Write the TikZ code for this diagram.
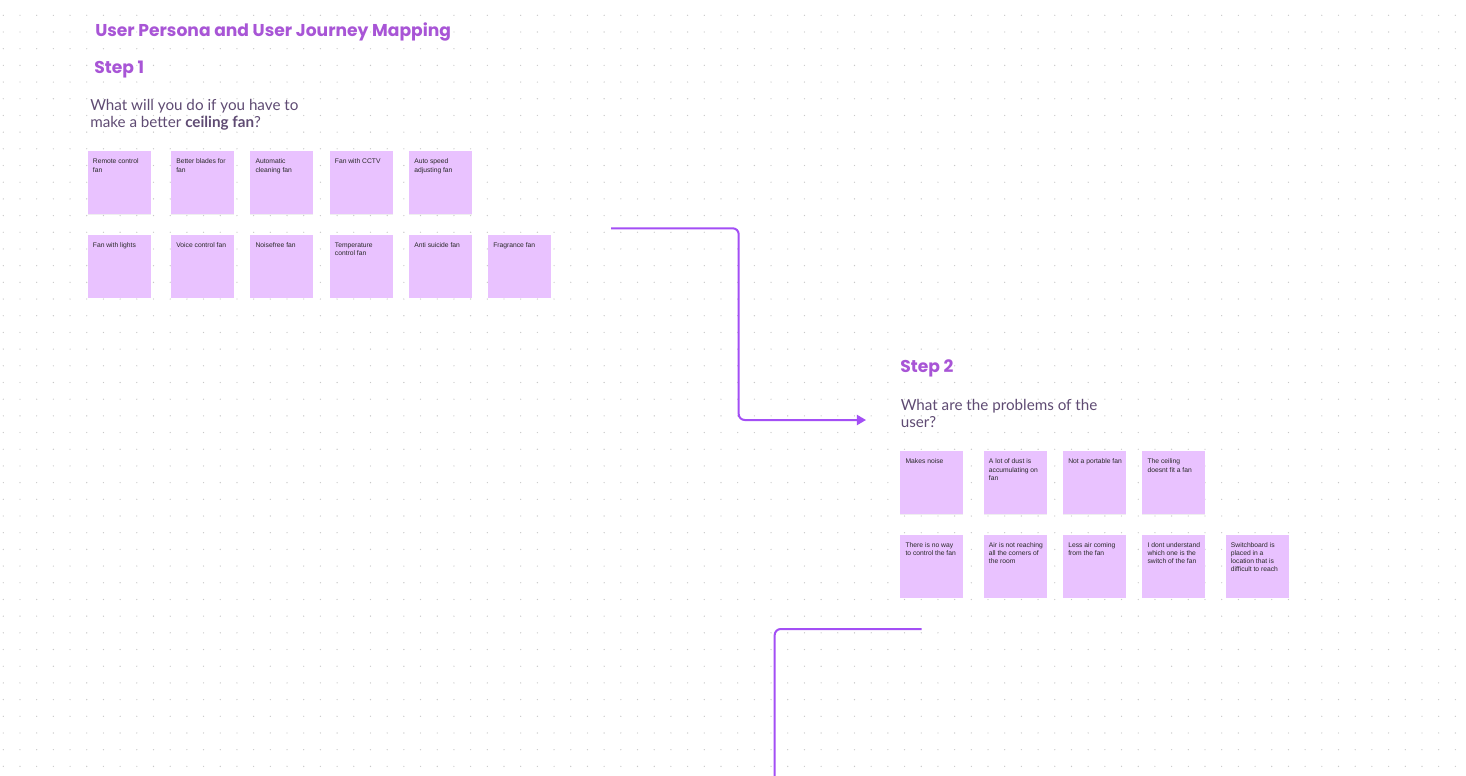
\documentclass[tikz,border=0pt]{standalone}
\usepackage{fontspec}
\usetikzlibrary{arrows.meta,shadows}
\newfontfamily\headfamily{Poppins}
\newfontfamily\askfamily{Lato}
\newfontfamily\notefamily{Liberation Sans}
\definecolor{headpurple}{RGB}{168,85,214}
\definecolor{askgrey}{RGB}{95,75,115}
\definecolor{notefill}{RGB}{233,194,255}
\definecolor{notetext}{RGB}{40,40,40}
\definecolor{linkpurple}{RGB}{163,79,245}
\definecolor{dotgrey}{RGB}{200,200,200}
% sticky note text, pinned to the top left corner
\newcommand{\notebox}[1]{\parbox[c][47.25pt][t]{47.25pt}{\raggedright\leftskip=4pt\fontsize{5.05}{6.2}\selectfont\rule{0pt}{9.4pt}#1}}

\begin{document}
\begin{tikzpicture}[
    x=0.75pt, y=-0.75pt,
    heading/.style={font=\headfamily\bfseries\fontsize{12.85}{15}\selectfont, text=headpurple, inner sep=0pt},
    ask/.style={font=\askfamily\fontsize{11.4}{13.1}\selectfont, text=askgrey, align=left, inner sep=0pt},
    note/.style={rectangle, fill=notefill, minimum width=47.25pt, minimum height=47.25pt,
      inner sep=0pt, anchor=north west, text=notetext, font=\notefamily,
      drop shadow={opacity=0.12, shadow xshift=0pt, shadow yshift=-0.6pt}},
    link/.style={draw=linkpurple, line width=1.5pt, rounded corners=4.5pt}
]
\useasboundingbox[fill=white] (0,0) rectangle (1466,775);

% dotted canvas
\foreach \i in {0,...,87} {
  \foreach \j in {0,...,45} {
    \fill[dotgrey] (3.3+16.69*\i, 15.3+16.69*\j) circle[radius=0.5pt];
  }
}

\node[heading, anchor=base west] (title) at (95,36) {User Persona and User Journey Mapping};

% Step 1
\node[heading, anchor=base west] (stepone) at (94,73.5) {Step 1};
\node[ask, anchor=north west] (askone) at (90,99) {What will you do if you have to\\make a better {\bfseries ceiling fan}?};

\foreach \x/\txt [count=\i] in {87.3/Remote control\\fan, 170.7/Better blades for\\fan,
    250/Automatic\\cleaning fan, 329.3/Fan with CCTV, 408.7/Auto speed\\adjusting fan} {
  \node[note] (ideaa\i) at (\x,151) {\notebox{\txt}};
}
\foreach \x/\txt [count=\i] in {87.3/Fan with lights, 170.7/Voice control fan,
    250/Noisefree fan, 329.3/Temperature\\control fan, 408.7/Anti suicide fan, 487.7/Fragrance fan} {
  \node[note] (ideab\i) at (\x,234.3) {\notebox{\txt}};
}

% Step 2
\node[heading, anchor=base west] (steptwo) at (900,372.7) {Step 2};
\node[ask, anchor=north west] (asktwo) at (900.5,399) {What are the problems of the\\user?};

\foreach \x/\txt [count=\i] in {900/Makes noise, 983.3/A lot of dust is\\accumulating on\\fan,
    1062.7/Not a portable fan, 1142/The ceiling\\doesnt fit a fan} {
  \node[note] (pain\i) at (\x,451) {\notebox{\txt}};
}
\foreach \x/\txt [count=\i] in {900/There is no way\\to control the fan, 983.3/Air is not reaching\\all the corners of\\the room,
    1062.7/Less air coming\\from the fan, 1142/I dont understand\\which one is the\\switch of the fan,
    1225.3/Switchboard is\\placed in a\\location that is\\difficult to reach} {
  \node[note] (painb\i) at (\x,534.3) {\notebox{\txt}};
}

% connectors between the steps
\coordinate (linkastart) at (611,228.3);
\coordinate (linkabend) at (738.7,320);
\coordinate (linkaend) at (866,420);
\draw[link, -{Triangle[length=6.8pt,width=7.5pt]}] (linkastart) -| (linkabend) |- (linkaend);

\coordinate (linkbstart) at (921.7,629);
\coordinate (linkbend) at (774.7,790);
\draw[link] (linkbstart) -| (linkbend);
\end{tikzpicture}
\end{document}
